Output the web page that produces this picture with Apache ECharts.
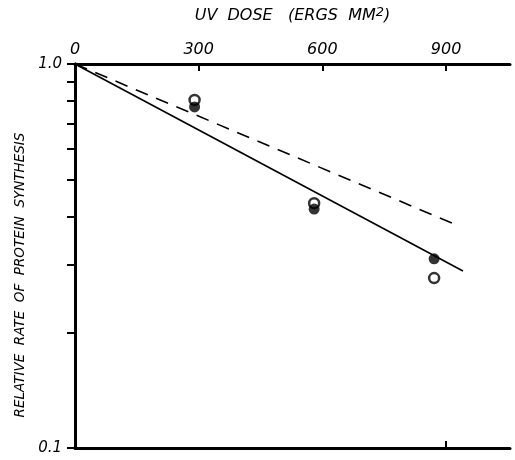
<!DOCTYPE html>
<html>
<head>
<meta charset="utf-8">
<script src="https://cdn.jsdelivr.net/npm/echarts@6/dist/echarts.min.js"></script>
<style>html,body{margin:0;padding:0;background:#fff}#c{width:515px;height:460px}</style>
</head>
<body>
<div id="c"></div>
<script>
// Data
const openDose = [290, 580, 871];
const openRate = [0.806, 0.434, 0.277];
const filledDose = [290, 580, 871];
const filledRate = [0.773, 0.419, 0.311];
const solidDose = [0, 941];
const solidRate = [1.0, 0.289];
const dashedDose = [0, 920];
const dashedRate = [1.0, 0.383];
const xTickLabels = [0, 300, 600, 900];
const yTickValues = [0.1, 0.2, 0.3, 0.4, 0.5, 0.6, 0.7, 0.8, 0.9, 1.0];
const yLabelValues = [0.1, 1.0];

const zip = (a, b) => a.map((v, i) => [v, b[i]]);
const font = 'DejaVu Sans';
const chart = echarts.init(document.getElementById('c'));
chart.setOption({
  animation: false,
  backgroundColor: '#fff',
  grid: {left: 75, right: 5, top: 64, bottom: 12, containLabel: false, outerBoundsMode: 'none'},
  xAxis: [{
    type: 'value', position: 'top', min: 0, max: 1055, interval: 300,
    name: '{a|UV  DOSE   (ERGS  MM}{s|2}{a|)}',
    nameLocation: 'middle', nameGap: 38,
    nameTextStyle: {
      rich: {
        a: {fontFamily: font, fontStyle: 'italic', fontSize: 16, color: '#000'},
        s: {fontFamily: font, fontStyle: 'italic', fontSize: 13, color: '#000', padding: [0, 0, 7, 0]}
      }
    },
    axisLine: {lineStyle: {color: '#000', width: 3}},
    axisTick: {inside: true, length: 7, lineStyle: {color: '#000', width: 2}, customValues: xTickLabels.slice(1)},
    axisLabel: {customValues: xTickLabels, fontFamily: font, fontStyle: 'italic', fontSize: 16, color: '#000', margin: 6},
    splitLine: {show: false}
  }, {
    type: 'value', position: 'bottom', min: 0, max: 1055, interval: 300,
    axisLine: {lineStyle: {color: '#000', width: 3}},
    axisTick: {inside: true, length: 7, lineStyle: {color: '#000', width: 2}, customValues: [900]},
    axisLabel: {show: false},
    splitLine: {show: false}
  }],
  yAxis: [{
    type: 'log', logBase: 10, min: 0.1, max: 1, position: 'left',
    name: 'RELATIVE  RATE  OF  PROTEIN  SYNTHESIS',
    nameLocation: 'middle', nameRotate: 90, nameGap: 36,
    nameTextStyle: {fontFamily: font, fontStyle: 'italic', fontSize: 13.5, color: '#000', padding: [0, 38, 0, 0]},
    axisLine: {lineStyle: {color: '#000', width: 3}},
    axisTick: {inside: false, length: 7, lineStyle: {color: '#000', width: 2}, customValues: yTickValues},
    axisLabel: {customValues: yLabelValues, fontFamily: font, fontStyle: 'italic', fontSize: 15, color: '#000', margin: 13,
      formatter: v => (Math.abs(v - 1) < 1e-6 ? '1.0' : '0.1')},
    splitLine: {show: false}
  }, {
    type: 'log', logBase: 10, min: 0.1, max: 1, position: 'right',
    axisLine: {lineStyle: {color: '#000', width: 3}},
    axisTick: {inside: true, length: 8, lineStyle: {color: '#000', width: 2}, customValues: yTickValues},
    axisLabel: {show: false},
    splitLine: {show: false}
  }],
  series: [{
    type: 'line', data: zip(solidDose, solidRate), symbol: 'none',
    lineStyle: {color: '#000', width: 1.6}, z: 2
  }, {
    type: 'line', data: zip(dashedDose, dashedRate), symbol: 'none',
    lineStyle: {color: '#000', width: 1.6, type: [13, 9]}, z: 2
  }, {
    type: 'scatter', data: zip(openDose, openRate), symbol: 'circle', symbolSize: 10,
    itemStyle: {color: '#fff', borderColor: '#000', borderWidth: 2.5}, z: 4
  }, {
    type: 'scatter', data: zip(filledDose, filledRate), symbol: 'circle', symbolSize: 11,
    itemStyle: {color: '#000'}, z: 5
  }]
});
</script>
</body>
</html>
